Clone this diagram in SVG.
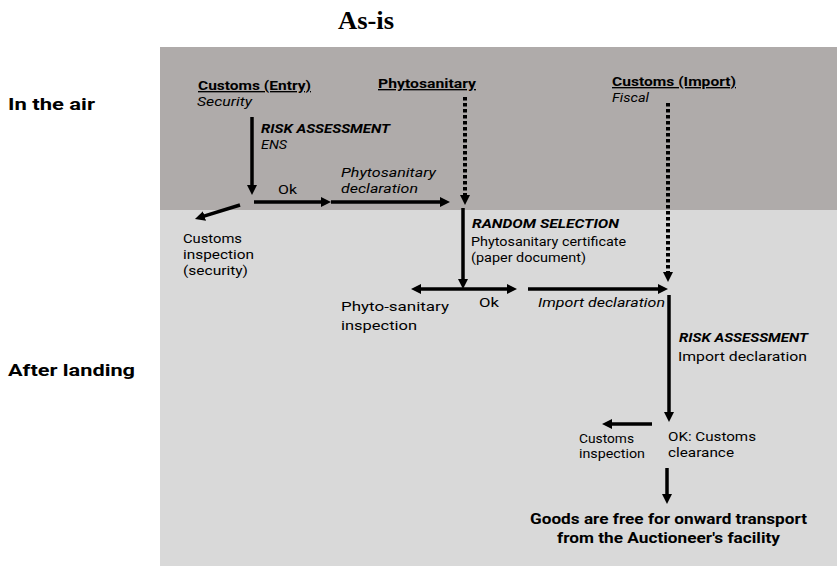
<svg xmlns="http://www.w3.org/2000/svg" width="837" height="566" viewBox="0 0 837 566">
<style>
text{font-family:Roboto,"Open Sans","Liberation Sans",sans-serif;fill:#000}
.t{font-family:"Liberation Serif",serif;font-weight:bold;font-size:25px}
.side{font-weight:bold;font-size:17px}
.hd{font-weight:bold;font-size:13.5px;text-decoration:underline}
.it{font-style:italic;font-size:13px}
.bi{font-style:italic;font-weight:bold;font-size:13px}
.r{font-size:13px}
.s{font-size:12px}
.b{font-weight:bold;font-size:14px}
.ln{stroke:#000;stroke-width:3.5;fill:none;marker-end:url(#ah)}
.dot{stroke:#000;stroke-width:4;fill:none;stroke-dasharray:3.5 2.5;marker-end:url(#ah)}
</style>
<defs>
<marker id="ah" viewBox="0 0 10 10" markerWidth="10" markerHeight="10" markerUnits="userSpaceOnUse" refX="4" refY="5" orient="auto">
<path d="M0,0 L10,5 L0,10 z" fill="#000"/>
</marker>
</defs>
<rect x="160" y="47" width="677" height="163" fill="#afabaa"/>
<rect x="160" y="210" width="677" height="356" fill="#d9d9d9"/>
<text class="t" x="338" y="29" textLength="56" lengthAdjust="spacingAndGlyphs">As-is</text>
<text class="side" x="8" y="110" textLength="87" lengthAdjust="spacingAndGlyphs">In the air</text>
<text class="side" x="8" y="376" textLength="127" lengthAdjust="spacingAndGlyphs">After landing</text>
<g id="customs-entry"><text class="hd" x="198" y="90" textLength="113" lengthAdjust="spacingAndGlyphs">Customs (Entry)</text><text class="it" x="197" y="106" textLength="55" lengthAdjust="spacingAndGlyphs">Security</text></g>
<g id="phytosanitary"><text class="hd" x="378" y="88" textLength="98" lengthAdjust="spacingAndGlyphs">Phytosanitary</text></g>
<g id="customs-import"><text class="hd" x="612" y="86" textLength="124" lengthAdjust="spacingAndGlyphs">Customs (Import)</text><text class="it" x="612" y="102" textLength="37" lengthAdjust="spacingAndGlyphs">Fiscal</text></g>
<g id="risk-ens"><text class="bi" x="261" y="133" textLength="129" lengthAdjust="spacingAndGlyphs">RISK ASSESSMENT</text><text class="it" x="261" y="149" textLength="26" lengthAdjust="spacingAndGlyphs">ENS</text></g>
<g id="ok1"><text class="r" x="278" y="194" textLength="19" lengthAdjust="spacingAndGlyphs">Ok</text></g>
<g id="phyto-decl"><text class="it" x="341" y="177" textLength="95" lengthAdjust="spacingAndGlyphs">Phytosanitary</text><text class="it" x="341" y="193" textLength="77" lengthAdjust="spacingAndGlyphs">declaration</text></g>
<g id="customs-insp-sec"><text class="r" x="183" y="243" textLength="59" lengthAdjust="spacingAndGlyphs">Customs</text><text class="r" x="183" y="259" textLength="71" lengthAdjust="spacingAndGlyphs">inspection</text><text class="r" x="183" y="275" textLength="65" lengthAdjust="spacingAndGlyphs">(security)</text></g>
<g id="random-sel"><text class="bi" x="472" y="228" textLength="147" lengthAdjust="spacingAndGlyphs">RANDOM SELECTION</text><text class="s" x="471" y="246" textLength="155" lengthAdjust="spacingAndGlyphs">Phytosanitary certificate</text><text class="s" x="471" y="262" textLength="115" lengthAdjust="spacingAndGlyphs">(paper document)</text></g>
<g id="phyto-insp"><text class="r" x="341" y="311" textLength="108" lengthAdjust="spacingAndGlyphs">Phyto-sanitary</text><text class="r" x="341" y="330" textLength="76" lengthAdjust="spacingAndGlyphs">inspection</text></g>
<g id="ok2"><text class="r" x="479" y="307" textLength="20" lengthAdjust="spacingAndGlyphs">Ok</text></g>
<g id="import-decl"><text class="it" x="538" y="307" textLength="127" lengthAdjust="spacingAndGlyphs">Import declaration</text></g>
<g id="risk-import"><text class="bi" x="679" y="342" textLength="129" lengthAdjust="spacingAndGlyphs">RISK ASSESSMENT</text><text class="r" x="678" y="361" textLength="129" lengthAdjust="spacingAndGlyphs">Import declaration</text></g>
<g id="customs-insp"><text class="s" x="579" y="443" textLength="55" lengthAdjust="spacingAndGlyphs">Customs</text><text class="s" x="579" y="458" textLength="66" lengthAdjust="spacingAndGlyphs">inspection</text></g>
<g id="ok-clearance"><text class="r" x="668" y="441" textLength="88" lengthAdjust="spacingAndGlyphs">OK: Customs</text><text class="r" x="668" y="457" textLength="66" lengthAdjust="spacingAndGlyphs">clearance</text></g>
<g id="goods-free"><text class="b" x="530" y="524" textLength="277" lengthAdjust="spacingAndGlyphs">Goods are free for onward transport</text><text class="b" x="557" y="543" textLength="223" lengthAdjust="spacingAndGlyphs">from the Auctioneer's facility</text></g>
<g id="connectors">
<line class="ln" x1="252" y1="117" x2="252" y2="189"/>
<line class="ln" x1="254" y1="202" x2="325" y2="202"/>
<line class="ln" x1="331" y1="202" x2="444" y2="202"/>
<line class="dot" x1="465" y1="97" x2="465" y2="199"/>
<line class="ln" x1="240" y1="205" x2="200.7" y2="217.2"/>
<line class="ln" x1="463" y1="208" x2="463" y2="283"/>
<line class="ln" x1="463" y1="289" x2="417" y2="289"/>
<line class="ln" x1="463" y1="289" x2="511" y2="289"/>
<line class="ln" x1="528" y1="289" x2="662" y2="289"/>
<line class="dot" x1="668" y1="103" x2="668" y2="276"/>
<line class="ln" x1="669" y1="295" x2="669" y2="416"/>
<line class="ln" x1="652" y1="424" x2="608" y2="424"/>
<line class="ln" x1="667" y1="468" x2="667" y2="498"/>
</g>
</svg>
